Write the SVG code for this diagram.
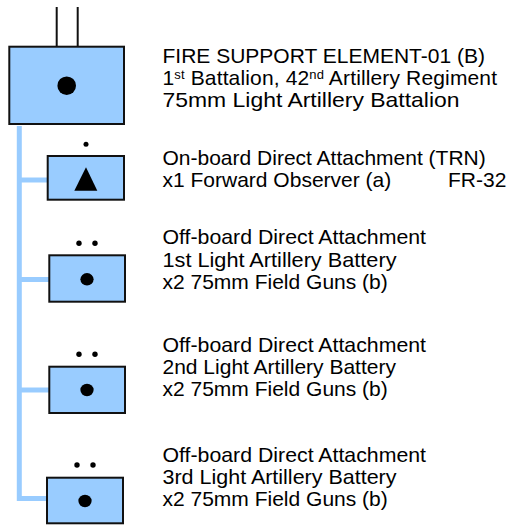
<svg xmlns="http://www.w3.org/2000/svg" width="512" height="525" viewBox="0 0 512 525">
<style>
.box{fill:#99CCFF;stroke:#111;stroke-width:2}
.conn{fill:none;stroke:#99CCFF;stroke-width:5;stroke-linejoin:miter}
.ink{fill:#000}
.lbl{font-family:"Liberation Sans",Arial,sans-serif;font-size:21px;fill:#000}
.sup{font-size:13px}
</style>
<rect width="512" height="525" fill="#fff"/>
<g id="connectors">
<path class="conn" d="M19.3,126 V498.5 H47.5"/>
<path class="conn" d="M19.3,180 H48"/>
<path class="conn" d="M19.3,279.5 H49.5"/>
<path class="conn" d="M19.3,390 H49.5"/>
</g>
<g id="hq">
<line x1="56.7" y1="7" x2="56.7" y2="46" stroke="#111" stroke-width="2"/>
<line x1="77.7" y1="7" x2="77.7" y2="46" stroke="#111" stroke-width="2"/>
<rect class="box" x="9.3" y="46.7" width="114.7" height="77.3"/>
<circle class="ink" cx="66.7" cy="85.7" r="9.3"/>
<text class="lbl" x="162.5" y="62.7">FIRE SUPPORT ELEMENT-01 (B)</text>
<text class="lbl" x="162.5" y="85" textLength="334.5" lengthAdjust="spacing">1<tspan class="sup" dy="-6">st</tspan><tspan dy="6"> Battalion, 42</tspan><tspan class="sup" dy="-6">nd</tspan><tspan dy="6"> Artillery Regiment</tspan></text>
<text class="lbl" x="162.5" y="106.7" textLength="297" lengthAdjust="spacingAndGlyphs">75mm Light Artillery Battalion</text>
</g>
<g id="fo">
<circle class="ink" cx="86" cy="144.3" r="2.5"/>
<rect class="box" x="47.7" y="156" width="76.3" height="43.7"/>
<polygon class="ink" points="86,167.3 97.3,190.7 74.3,190.7"/>
<text class="lbl" x="162.5" y="164.5">On-board Direct Attachment (TRN)</text>
<text class="lbl" x="162.5" y="186.7">x1 Forward Observer (a)</text>
<text class="lbl" x="448" y="186.7">FR-32</text>
</g>
<g id="battery1">
<circle class="ink" cx="79" cy="243.3" r="2.7"/>
<circle class="ink" cx="95" cy="243.3" r="2.7"/>
<rect class="box" x="49.3" y="255.3" width="75.7" height="46.4"/>
<ellipse class="ink" cx="87" cy="279.3" rx="6.6" ry="6.2"/>
<text class="lbl" x="162.5" y="244" textLength="263.5" lengthAdjust="spacingAndGlyphs">Off-board Direct Attachment</text>
<text class="lbl" x="162.5" y="266.5" textLength="234" lengthAdjust="spacingAndGlyphs">1st Light Artillery Battery</text>
<text class="lbl" x="162.5" y="288.5">x2 75mm Field Guns (b)</text>
</g>
<g id="battery2">
<circle class="ink" cx="79" cy="354.3" r="2.7"/>
<circle class="ink" cx="95" cy="354.3" r="2.7"/>
<rect class="box" x="49.3" y="366.7" width="75.7" height="46.3"/>
<ellipse class="ink" cx="87" cy="390" rx="6.6" ry="6.2"/>
<text class="lbl" x="162.5" y="352" textLength="263.5" lengthAdjust="spacingAndGlyphs">Off-board Direct Attachment</text>
<text class="lbl" x="162.5" y="374">2nd Light Artillery Battery</text>
<text class="lbl" x="162.5" y="396">x2 75mm Field Guns (b)</text>
</g>
<g id="battery3">
<circle class="ink" cx="77" cy="465" r="2.7"/>
<circle class="ink" cx="93" cy="465" r="2.7"/>
<rect class="box" x="47" y="477.7" width="76" height="45.6"/>
<ellipse class="ink" cx="85" cy="501" rx="6.6" ry="6.2"/>
<text class="lbl" x="162.5" y="462" textLength="263.5" lengthAdjust="spacingAndGlyphs">Off-board Direct Attachment</text>
<text class="lbl" x="162.5" y="484" textLength="234" lengthAdjust="spacingAndGlyphs">3rd Light Artillery Battery</text>
<text class="lbl" x="162.5" y="506">x2 75mm Field Guns (b)</text>
</g>
</svg>
